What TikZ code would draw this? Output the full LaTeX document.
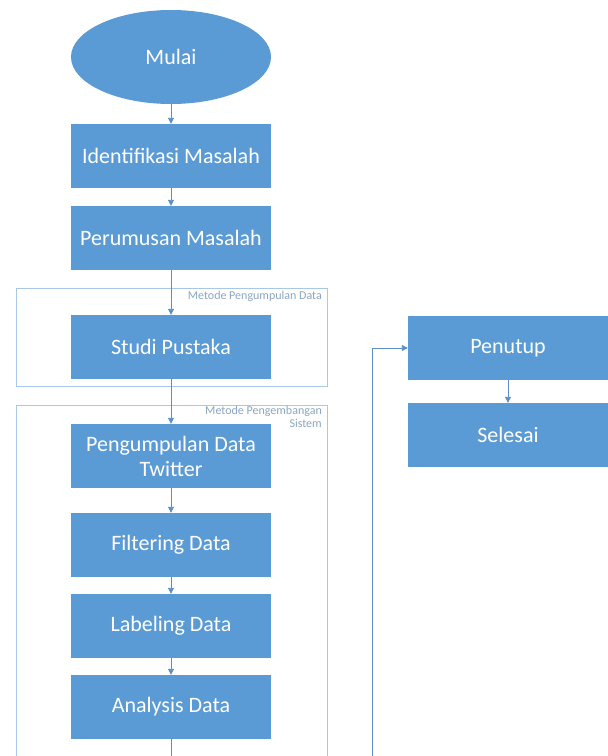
\documentclass[tikz,border=0pt]{standalone}
\usepackage{fontspec}
\setmainfont{Carlito}
\usetikzlibrary{arrows.meta,shapes.geometric}

\definecolor{boxblue}{HTML}{5B9BD5}
\definecolor{lineblue}{HTML}{5B8FC7}
\definecolor{framblue}{HTML}{A9C7E6}
\definecolor{labgray}{HTML}{8AA6C4}

\tikzset{
  stepbox/.style={rectangle, fill=boxblue, text=white, minimum width=200pt, minimum height=64pt, font=\fontsize{22}{25}\selectfont, align=center, inner sep=2pt},
  startnode/.style={ellipse, fill=boxblue, text=white, minimum width=200pt, minimum height=94pt, font=\fontsize{22}{25}\selectfont},
  flow/.style={draw=lineblue, line width=0.9pt, -{Triangle[length=6pt,width=6pt]}},
  frame/.style={draw=framblue, line width=0.9pt},
  framelabel/.style={text=labgray, font=\fontsize{12}{12.5}\selectfont, align=right, inner sep=1pt}
}

\begin{document}
\begin{tikzpicture}[x=1pt,y=-1pt]
\clip (0,0) rectangle (608,756);
\fill[white] (0,0) rectangle (608,756);

\draw[frame] (16,288) rectangle (327,386);
\draw[frame] (16,405) rectangle (327,780);
\node[framelabel, anchor=north east] (lab1) at (323,290) {Metode Pengumpulan Data};
\node[framelabel, anchor=north east] (lab2) at (323,405) {Metode Pengembangan\\Sistem};

\node (mulai) at (171,57) [startnode] {Mulai};
\node (ident) at (171,156) [stepbox] {Identifikasi Masalah};
\node (rumus) at (171,238) [stepbox] {Perumusan Masalah};
\node (studi) at (171,347) [stepbox] {Studi Pustaka};
\node (kumpul) at (171,456) [stepbox] {Pengumpulan Data\\Twitter};
\node (filter) at (171,545) [stepbox] {Filtering Data};
\node (label) at (171,626) [stepbox] {Labeling Data};
\node (analisa) at (171,707) [stepbox] {Analysis Data};
\node (tutup) at (508,348) [stepbox] {Penutup};
\node (selesai) at (508,435) [stepbox] {Selesai};

\coordinate (down) at (171,780);
\coordinate (back) at (372,780);

\draw[flow] (mulai) -- (ident);
\draw[flow] (ident) -- (rumus);
\draw[flow] (rumus) -- (studi);
\draw[flow] (studi) -- (kumpul);
\draw[flow] (kumpul) -- (filter);
\draw[flow] (filter) -- (label);
\draw[flow] (label) -- (analisa);
\draw[draw=lineblue, line width=0.9pt] (analisa) -- (down);
\draw[flow] (back) |- (tutup);
\draw[flow] (tutup) -- (selesai);
\end{tikzpicture}
\end{document}
